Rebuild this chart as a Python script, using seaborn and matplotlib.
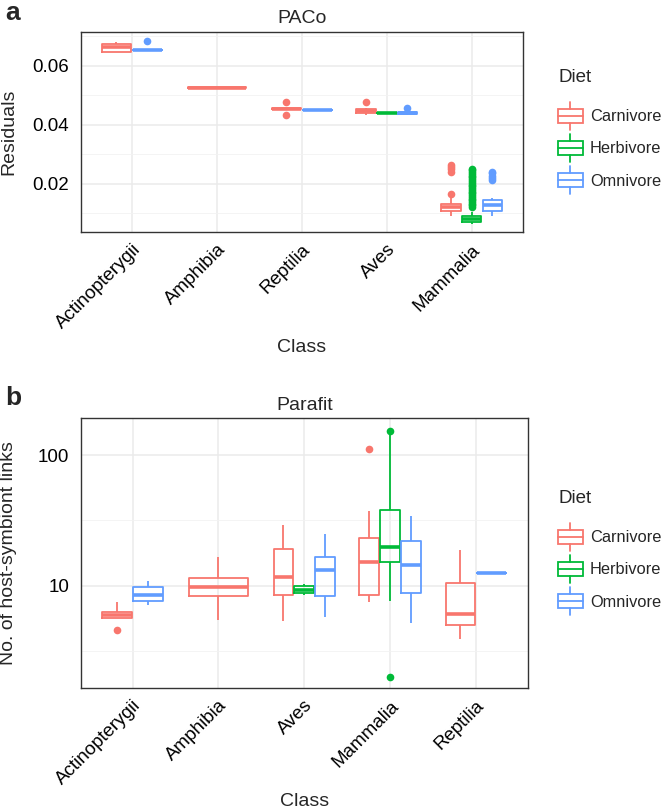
import numpy as np
import matplotlib
matplotlib.use("Agg")
import matplotlib.pyplot as plt
import seaborn as sns
from matplotlib.patches import Rectangle
from matplotlib.lines import Line2D
from matplotlib.legend_handler import HandlerBase
from matplotlib.ticker import FixedLocator, NullFormatter

# colours for the three diet groups (ggplot default hue)
diet_order = ['Carnivore', 'Herbivore', 'Omnivore']
diet_colors = ['#F8766D', '#00BA38', '#619CFF']

# panel a: PACo residuals (five-number summaries)
paco_order = ['Actinopterygii', 'Amphibia', 'Reptilia', 'Aves', 'Mammalia']
paco_class = ['Actinopterygii', 'Actinopterygii', 'Amphibia', 'Reptilia', 'Reptilia',
              'Aves', 'Aves', 'Aves', 'Mammalia', 'Mammalia', 'Mammalia']
paco_diet = ['Carnivore', 'Omnivore', 'Carnivore', 'Carnivore', 'Omnivore',
             'Carnivore', 'Herbivore', 'Omnivore', 'Carnivore', 'Herbivore', 'Omnivore']
paco_low = [0.0646, 0.0654, 0.0525, 0.0453, 0.0450, 0.0433, 0.0439, 0.0433, 0.0090, 0.0063, 0.0092]
paco_q1 = [0.0647, 0.0654, 0.0525, 0.0454, 0.0450, 0.0440, 0.0440, 0.0437, 0.0109, 0.0070, 0.0107]
paco_med = [0.0663, 0.0654, 0.0526, 0.0455, 0.0450, 0.0446, 0.0441, 0.0440, 0.0121, 0.0080, 0.0129]
paco_q3 = [0.0673, 0.0654, 0.0527, 0.0457, 0.0450, 0.0453, 0.0442, 0.0444, 0.0131, 0.0090, 0.0145]
paco_high = [0.0680, 0.0654, 0.0528, 0.0458, 0.0450, 0.0456, 0.0443, 0.0446, 0.0152, 0.0105, 0.0154]
paco_out = [[], [0.0686], [], [0.0434, 0.0479], [], [0.0478], [], [0.0458],
            [0.0167, 0.0242, 0.0250, 0.0258, 0.0266],
            [0.0122, 0.0128, 0.0133, 0.0139, 0.0145, 0.0150, 0.0156, 0.0162, 0.0168, 0.0174,
             0.0180, 0.0186, 0.0192, 0.0198, 0.0204, 0.0210, 0.0216, 0.0222, 0.0228, 0.0234,
             0.0240, 0.0246, 0.0252],
            [0.0212, 0.0220, 0.0228, 0.0236, 0.0242]]

# panel b: Parafit host-symbiont links
para_order = ['Actinopterygii', 'Amphibia', 'Aves', 'Mammalia', 'Reptilia']
para_class = ['Actinopterygii', 'Actinopterygii', 'Amphibia', 'Aves', 'Aves', 'Aves',
              'Mammalia', 'Mammalia', 'Mammalia', 'Reptilia', 'Reptilia']
para_diet = ['Carnivore', 'Omnivore', 'Carnivore', 'Carnivore', 'Herbivore', 'Omnivore',
             'Carnivore', 'Herbivore', 'Omnivore', 'Carnivore', 'Omnivore']
para_low = [5.65, 7.1, 5.5, 5.4, 8.5, 5.75, 7.45, 7.6, 5.2, 3.9, 12.6]
para_q1 = [5.65, 7.7, 8.3, 8.5, 8.8, 8.4, 8.5, 15.3, 8.8, 5.0, 12.6]
para_med = [6.0, 8.5, 9.8, 11.7, 9.3, 13.2, 15.1, 19.9, 14.5, 6.1, 12.6]
para_q3 = [6.35, 9.7, 11.4, 19.0, 9.9, 16.7, 23.0, 38.0, 22.1, 10.5, 12.6]
para_high = [7.5, 10.9, 16.7, 29.0, 10.3, 24.9, 37.5, 145.0, 34.3, 18.8, 12.6]
para_out = [[4.6], [], [], [], [], [], [111.0], [1.99, 152.0], [], [], []]

TOTAL_W = 0.73
FS = 14


def expand(low, q1, med, q3, high, out):
    # sample whose quartiles / whisker ends equal the read summary
    m = 2 * len(out) + 5
    return [low] + [q1] * m + [med] * m + [q3] * m + [high] + list(out)


def draw_panel(ax, order, classes, diets, lows, q1s, meds, q3s, highs, outs):
    for k, (cls, diet) in enumerate(zip(classes, diets)):
        present = [d for c, d in zip(classes, diets) if c == cls]
        n = len(present)
        slot = TOTAL_W / n
        pos = order.index(cls) + (present.index(diet) - (n - 1) / 2) * slot
        vals = expand(lows[k], q1s[k], meds[k], q3s[k], highs[k], outs[k])
        col = diet_colors[diet_order.index(diet)]
        sns.boxplot(x=[pos] * len(vals), y=vals, native_scale=True, orient='x',
                    width=slot * 0.94, color=col, fill=False, linewidth=1.3,
                    showcaps=False, ax=ax,
                    boxprops=dict(color=col),
                    whiskerprops=dict(color=col),
                    medianprops=dict(color=col, linewidth=2.6),
                    flierprops=dict(marker='o', markersize=5.5, markerfacecolor=col,
                                    markeredgecolor=col, markeredgewidth=0))


class BoxKey(HandlerBase):
    def create_artists(self, legend, orig_handle, xd, yd, w, h, fs, trans):
        c = orig_handle.get_edgecolor()
        x0, y0 = -xd, -yd
        box = Rectangle((x0, y0 + 0.25 * h), w, 0.5 * h, facecolor='white',
                        edgecolor=c, lw=1.3, transform=trans)
        med = Line2D([x0, x0 + w], [y0 + 0.5 * h] * 2, color=c, lw=1.3, transform=trans)
        w1 = Line2D([x0 + w / 2] * 2, [y0, y0 + 0.25 * h], color=c, lw=1.3, transform=trans)
        w2 = Line2D([x0 + w / 2] * 2, [y0 + 0.75 * h, y0 + h], color=c, lw=1.3, transform=trans)
        return [box, med, w1, w2]


def style_axes(ax, order):
    ax.set_xlim(-0.6, len(order) - 0.4)
    ax.xaxis.set_major_locator(FixedLocator(range(len(order))))
    ax.set_xticklabels(order, rotation=45, ha='right', rotation_mode='anchor')
    ax.grid(which='major', color='#EBEBEB', linewidth=1.1)
    ax.grid(which='minor', axis='y', color='#F2F2F2', linewidth=0.6)
    ax.set_axisbelow(True)
    for s in ax.spines.values():
        s.set_color('#333333')
        s.set_linewidth(1.0)
    ax.tick_params(which='major', length=3.6, width=1.0, color='#333333',
                   labelsize=13.5, labelcolor='black')
    ax.tick_params(axis='y', pad=5)
    ax.tick_params(axis='x', pad=3)
    ax.tick_params(which='minor', length=0)


def add_legend(ax, fig, title_y, first_y):
    # title drawn as its own text so the gap to the keys matches the original
    fig.text(558 / 664, 1 - title_y / 809, 'Diet', fontsize=13.5, va='center', ha='left')
    handles = [Rectangle((0, 0), 1, 1, facecolor='white', edgecolor=c) for c in diet_colors]
    leg = ax.legend(handles, diet_order, loc='upper left',
                    bbox_to_anchor=(558 / 664, 1 - (first_y - 14) / 809),
                    bbox_transform=fig.transFigure,
                    frameon=False, fontsize=11.8, borderpad=0,
                    handlelength=1.5, handleheight=2.26, labelspacing=0.26,
                    handletextpad=0.45, borderaxespad=0,
                    handler_map={Rectangle: BoxKey()})
    return leg


sns.set_style('white')
plt.rcParams['font.family'] = ['Liberation Sans', 'DejaVu Sans']

fig = plt.figure(figsize=(6.64, 8.09), dpi=100)
ax1 = fig.add_axes([81 / 664, 1 - 232 / 809, 441.7 / 664, 200.3 / 809])
ax2 = fig.add_axes([81 / 664, 1 - 688 / 809, 446.5 / 664, 270 / 809])

# panel a
draw_panel(ax1, paco_order, paco_class, paco_diet, paco_low, paco_q1, paco_med,
           paco_q3, paco_high, paco_out)
style_axes(ax1, paco_order)
ax1.set_ylim(0.00373, 0.0716)
ax1.yaxis.set_major_locator(FixedLocator([0.02, 0.04, 0.06]))
ax1.yaxis.set_major_formatter(plt.FuncFormatter(lambda v, p: f'{v:.2f}'))
ax1.yaxis.set_minor_locator(FixedLocator([0.01, 0.03, 0.05, 0.07]))
ax1.set_title('PACo', fontsize=FS, pad=6)
ax1.set_ylabel('Residuals', fontsize=FS)
ax1.set_xlabel('Class', fontsize=FS, va='top')
ax1.yaxis.set_label_coords(-0.145, 0.5)
ax1.xaxis.set_label_coords(0.5, -0.535)
add_legend(ax1, fig, 78, 115.7)

# panel b
ax2.set_yscale('log')
draw_panel(ax2, para_order, para_class, para_diet, para_low, para_q1, para_med,
           para_q3, para_high, para_out)
style_axes(ax2, para_order)
ax2.set_yscale('log')
ax2.set_ylim(1.65, 192)
ax2.yaxis.set_major_locator(FixedLocator([10, 100]))
ax2.yaxis.set_major_formatter(plt.FuncFormatter(lambda v, p: f'{v:g}'))
ax2.yaxis.set_minor_locator(FixedLocator([10 ** 0.5, 10 ** 1.5]))
ax2.yaxis.set_minor_formatter(NullFormatter())
ax2.tick_params(which='minor', length=0)
ax2.set_title('Parafit', fontsize=FS, pad=6)
ax2.set_ylabel('No. of host-symbiont links', fontsize=FS)
ax2.set_xlabel('Class', fontsize=FS, va='top')
ax2.yaxis.set_label_coords(-0.143, 0.5)
ax2.xaxis.set_label_coords(0.5, -0.39)
add_legend(ax2, fig, 498, 536.7)

fig.text(0.008, 1 - 1 / 809, 'a', fontsize=19, fontweight='bold', va='top')
fig.text(0.008, 1 - 405 / 809, 'b', fontsize=19, fontweight='bold', va='baseline')

fig.savefig('out.png', dpi=100)
